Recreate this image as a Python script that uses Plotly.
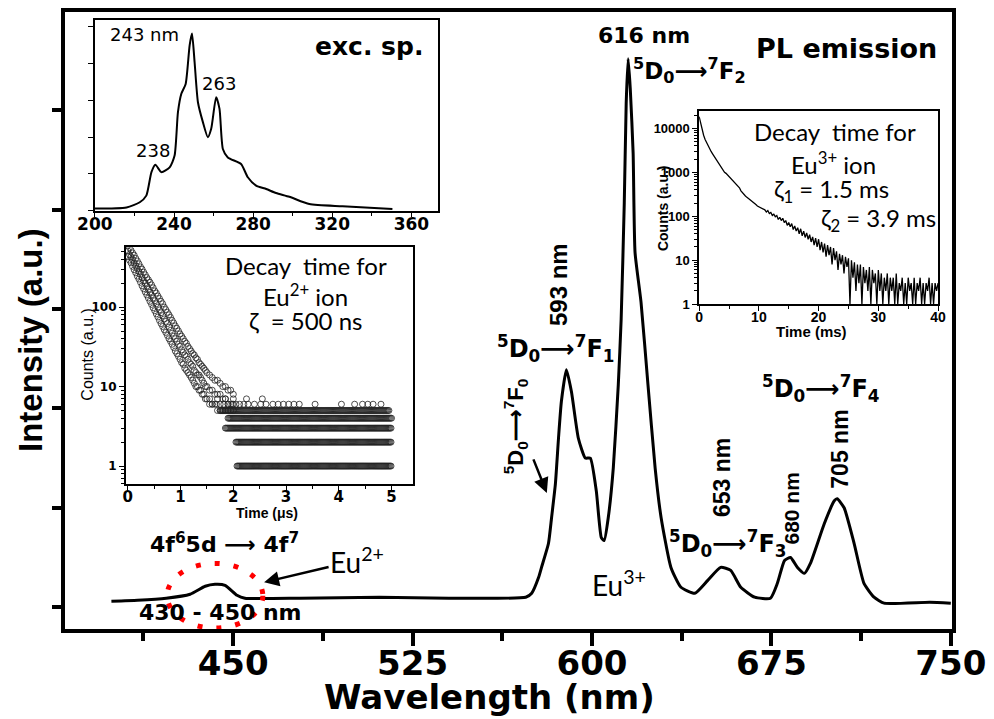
import numpy as np
import plotly.graph_objects as go

# ---------------- data ----------------
# main PL emission spectrum
pl_wavelength = [399.1, 410.0, 422.0, 432.0, 438.3, 442.4, 446.6, 451.6, 454.9, 477.8, 511.1, 540.2,
                 572.3, 574.8, 577.7, 578.9, 581.8, 583.1, 584.7, 586.0, 587.2, 589.3, 591.4, 594.3,
                 597.2, 599.3, 601.8, 603.9, 605.1, 606.8, 608.9, 611.0, 612.2, 613.5, 614.3, 615.1,
                 616.0, 617.2, 618.0, 620.5, 623.4, 626.4, 628.9, 633.0, 637.2, 643.0, 648.4, 653.8,
                 658.0, 662.2, 668.0, 674.6, 677.5, 680.5, 683.0, 685.9, 688.8, 691.3, 697.1, 701.3,
                 702.5, 705.4, 709.6, 713.7, 717.9, 722.1, 741.2, 750.0]
pl_intensity = [0.06, 0.07, 0.09, 0.13, 0.21, 0.23, 0.22, 0.12, 0.09, 0.09, 0.10, 0.09,
                0.10, 0.14, 0.30, 0.40, 0.64, 0.90, 1.24, 1.70, 2.07, 2.39, 2.17, 1.70,
                1.50, 1.50, 1.17, 0.70, 0.67, 0.90, 1.40, 2.24, 2.90, 4.07, 5.07, 5.52,
                5.22, 4.57, 3.57, 3.07, 2.24, 1.40, 0.90, 0.40, 0.20, 0.14, 0.27, 0.40,
                0.37, 0.20, 0.10, 0.09, 0.24, 0.47, 0.50, 0.40, 0.34, 0.44, 0.84, 1.07,
                1.09, 1.00, 0.64, 0.24, 0.10, 0.04, 0.05, 0.04]
main_ticks = [450, 525, 600, 675, 750]

# excitation spectrum (inset 1)
exc_wavelength = [200.0, 216.0, 222.7, 226.0, 228.6, 230.6, 233.6, 237.8, 240.3, 242.0, 243.7, 245.9,
                  247.9, 249.1, 250.4, 252.1, 254.6, 257.1, 258.8, 261.3, 263.0, 264.7, 267.2, 273.9,
                  277.3, 281.5, 286.6, 291.6, 298.3, 308.4, 325.2, 350.4]
exc_intensity = [0.06, 0.09, 0.23, 0.41, 1.05, 1.25, 1.05, 1.18, 1.50, 2.68, 3.18, 3.45,
                 4.50, 4.82, 4.05, 2.95, 2.41, 2.00, 2.23, 3.09, 2.77, 1.68, 1.45, 1.27,
                 0.91, 0.68, 0.59, 0.48, 0.38, 0.18, 0.12, 0.05]
exc_ticks = [200, 240, 280, 320, 360]

# Eu2+ decay (inset 2), time in microseconds
eu2_time = [0.00, 0.03, 0.06, 0.09, 0.12, 0.15, 0.18, 0.21, 0.24, 0.27, 0.30, 0.33, 0.36, 0.39,
            0.42, 0.45, 0.48, 0.51, 0.54, 0.57, 0.60, 0.63, 0.66, 0.69, 0.72, 0.75, 0.78, 0.81,
            0.84, 0.87, 0.90, 0.93, 0.96, 0.99, 1.02, 1.05, 1.08, 1.11, 1.14, 1.17, 1.20, 1.23,
            1.26, 1.29, 1.32, 1.35, 1.38, 1.41, 1.44, 1.47, 1.50, 1.55, 1.60, 1.65, 1.70, 1.75,
            1.80, 1.85, 1.90, 1.95, 2.00]
eu2_counts_high = [600, 560, 520, 480, 450, 410, 380, 350, 320, 300, 275, 255, 235, 220,
                   205, 190, 175, 160, 150, 138, 128, 118, 110, 100, 93, 86, 80, 74,
                   68, 63, 58, 54, 50, 46, 43, 40, 37, 35, 32, 30, 28, 26,
                   25, 23, 22, 20, 19, 18, 17, 16, 15, 14, 13, 12, 12, 11,
                   10, 10, 9, 9, 8]
eu2_counts_mid = [510, 460, 430, 395, 360, 330, 305, 280, 258, 235, 215, 200, 183, 168,
                  154, 142, 130, 120, 110, 100, 92, 85, 78, 71, 66, 62, 56, 51,
                  47, 43, 40, 37, 34, 32, 29, 27, 25, 24, 22, 20, 19, 18,
                  16, 15, 14, 14, 13, 12, 11, 10, 10, 9, 9, 8, 8, 8,
                  7, 7, 6, 6, 6]
eu2_counts_low = [430, 390, 360, 325, 295, 270, 245, 225, 205, 185, 170, 155, 142, 130,
                  118, 108, 98, 90, 82, 75, 68, 62, 57, 52, 48, 44, 40, 37,
                  34, 31, 28, 26, 24, 22, 20, 19, 17, 16, 15, 14, 13, 12,
                  11, 10, 10, 9, 9, 8, 8, 7, 7, 6, 6, 6, 5, 5,
                  5, 5, 5, 5, 5]
eu2_floor_levels = [1, 2, 3, 4, 5]
eu2_floor_start = [2.07, 2.05, 1.85, 1.90, 1.75]
eu2_floor_end = [5.00, 5.00, 5.00, 5.00, 4.95]
eu2_level6_time = [1.60, 1.68, 1.75, 1.82, 1.90, 1.98, 2.05, 2.12, 2.20, 2.28, 2.40, 2.52, 2.62,
                   2.75, 2.85, 2.95, 3.05, 3.15, 3.25, 3.55, 4.05, 4.30, 4.45, 4.55, 4.65, 4.80]
eu2_level7_time = [1.55, 1.70, 1.85, 2.00, 2.25, 2.55]

# Eu3+ decay (inset 3), time in ms with 0.25 ms channels
eu3_counts = [18600, 13500, 9000, 7000, 5600, 4700, 4000, 3500, 3000, 2650, 2350, 2100, 1800,
              1620, 1480, 1330, 1150, 1000, 950, 870, 800, 740, 680, 620, 560, 520, 480, 445,
              380, 340, 310, 290, 270, 255, 240, 225, 212, 200, 185, 172, 165, 160, 150, 146,
              140, 125, 135, 115, 122, 105, 112, 98, 104, 85, 95, 80, 90, 72, 80, 62,
              72, 58, 68, 50, 60, 46, 55, 40, 52, 36, 46, 33, 42, 30, 38, 26,
              34, 22, 32, 20, 30, 17, 26, 15, 24, 12, 22, 13, 20, 8, 19, 10,
              16, 6, 14, 8, 13, 5, 12, 7, 11, 1, 10, 4, 9, 2, 8, 3,
              8, 1, 7, 3, 6, 2, 7, 1, 6, 3, 5, 1, 6, 2, 5, 1,
              4, 2, 5, 1, 4, 2, 4, 1, 5, 1, 3, 2, 4, 1, 3, 1,
              4, 2, 3, 1, 4, 1, 3, 2, 4, 1, 3, 1, 3, 2, 4, 1,
              3, 1, 3, 2, 3]
eu3_channel_ms = 0.25

# ---------------- layout helpers ----------------
W, H = 994, 719
ML, MR, MT, MB = 65, 38, 8, 90
PW, PH = W - ML - MR, H - MT - MB


def px(x):
    return (x - ML) / PW


def py(y):
    return (H - MB - y) / PH


BOLD = "DejaVu Sans"
ARIAL = "Liberation Sans"
CAL = "Lato"

fig = go.Figure()

# main spectrum
fig.add_trace(go.Scatter(x=pl_wavelength, y=pl_intensity, mode="lines",
                         line=dict(color="black", width=3, shape="spline", smoothing=0.5),
                         xaxis="x", yaxis="y", showlegend=False))

# excitation inset
fig.add_trace(go.Scatter(x=exc_wavelength, y=exc_intensity, mode="lines",
                         line=dict(color="black", width=2, shape="spline", smoothing=0.6),
                         xaxis="x2", yaxis="y2", showlegend=False))

# Eu2+ decay inset
t2 = list(eu2_time) * 3
c2 = list(eu2_counts_high) + list(eu2_counts_mid) + list(eu2_counts_low)
for lvl, s, e in zip(eu2_floor_levels, eu2_floor_start, eu2_floor_end):
    tt = np.arange(s, e + 1e-9, 0.02)
    t2 += list(tt)
    c2 += [lvl] * len(tt)
t2 += eu2_level6_time
c2 += [6] * len(eu2_level6_time)
t2 += eu2_level7_time
c2 += [7] * len(eu2_level7_time)
fig.add_trace(go.Scatter(x=t2, y=c2, mode="markers",
                         marker=dict(symbol="circle-open", size=6, color="#222",
                                     line=dict(width=0.8)),
                         xaxis="x3", yaxis="y3", showlegend=False))

# Eu3+ decay inset
t3 = np.arange(len(eu3_counts)) * eu3_channel_ms
fig.add_trace(go.Scatter(x=t3, y=eu3_counts, mode="lines",
                         line=dict(color="black", width=1.3),
                         xaxis="x4", yaxis="y4", showlegend=False))

# ---------------- axes ----------------
main_axis_common = dict(showgrid=False, zeroline=False, linecolor="black", linewidth=4,
                        mirror=True, ticks="outside", tickcolor="black")

inset_common = dict(showgrid=False, zeroline=False, linecolor="black", linewidth=1.5,
                    mirror=True, ticks="outside", tickcolor="black", tickwidth=1)

fig.update_layout(
    width=W, height=H,
    margin=dict(l=ML, r=MR, t=MT, b=MB),
    paper_bgcolor="white", plot_bgcolor="white",
    xaxis=dict(domain=[0, 1], range=[379.7, 750.5], tickvals=main_ticks,
               ticklen=13, tickwidth=4, ticklabelstandoff=-12,
               tickfont=dict(family=BOLD, size=34, color="black", weight="bold"),
               minor=dict(tickvals=[412.5, 487.5, 562.5, 637.5, 712.5], ticks="outside",
                          ticklen=8, tickwidth=4, tickcolor="black"),
               **main_axis_common),
    yaxis=dict(domain=[0, 1], range=[-0.22, 5.99], tickvals=[0, 1, 2, 3, 4, 5],
               showticklabels=False, ticklen=9, tickwidth=4, **main_axis_common),
    xaxis2=dict(domain=[px(95), px(440)], range=[200, 373.6], anchor="y2",
                tickvals=exc_ticks, ticklen=5, ticklabelstandoff=-8,
                tickfont=dict(family=BOLD, size=17, color="black", weight="bold"),
                minor=dict(dtick=20, tick0=200, ticks="outside", ticklen=4, tickcolor="black"),
                **inset_common),
    yaxis2=dict(domain=[py(208), py(16)], range=[0, 5.19], anchor="x2",
                tickvals=[0, 1, 2, 3, 4, 5], showticklabels=False, ticklen=5, **inset_common),
    xaxis3=dict(domain=[px(126), px(415)], range=[-0.04, 5.415], anchor="y3",
                tickvals=[0, 1, 2, 3, 4, 5], ticklen=5, ticklabelstandoff=-7,
                tickfont=dict(family=BOLD, size=15, color="black", weight="bold"),
                minor=dict(dtick=0.5, tick0=0, ticks="outside", ticklen=3, tickcolor="black"),
                **inset_common),
    yaxis3=dict(domain=[py(483), py(245)], type="log", range=[-0.225, 2.75], anchor="x3",
                tickvals=[1, 10, 100], ticktext=["1", "10", "100"], ticklen=5,
                tickfont=dict(family=BOLD, size=12, color="black", weight="bold"),
                minor=dict(dtick="D1", ticks="outside", ticklen=3, tickcolor="black"),
                **inset_common),
    xaxis4=dict(domain=[px(702), px(942)], range=[0, 40], anchor="y4",
                tickvals=[0, 10, 20, 30, 40], ticklen=5, ticklabelstandoff=-6,
                tickfont=dict(family=ARIAL, size=14, color="black", weight="bold"),
                minor=dict(dtick=5, tick0=0, ticks="outside", ticklen=3, tickcolor="black"),
                **inset_common),
    yaxis4=dict(domain=[py(302), py(108)], type="log", range=[0, 4.39], anchor="x4",
                tickvals=[1, 10, 100, 1000, 10000],
                ticktext=["1", "10", "100", "1000", "10000"], ticklen=5,
                tickfont=dict(family=ARIAL, size=13, color="black", weight="bold"),
                minor=dict(dtick="D1", ticks="outside", ticklen=3, tickcolor="black"),
                **inset_common),
)

# ---------------- annotations ----------------
ann = []


def add(text, x, y, family=BOLD, size=20, weight="bold", angle=0, bg=None, **kw):
    d = dict(text=text, x=px(x), y=py(y), xref="paper", yref="paper", showarrow=False,
             textangle=angle, xanchor="center", yanchor="middle",
             font=dict(family=family, size=size, color="black", weight=weight))
    if bg:
        d["bgcolor"] = bg
    d.update(kw)
    ann.append(d)


ARROW = "\u27f6"

add("Intensity (a.u.)", 31, 338, family=ARIAL, size=33, angle=-90)
add("Wavelength (nm)", 491, 697, size=34)

add("616 nm", 647, 32, size=22)
add(f"<sup>5</sup>D<sub>0</sub>{ARROW}<sup>7</sup>F<sub>2</sub>", 692, 67, size=23)
add("PL emission", 850, 45, size=27)
add("exc. sp.", 370, 43, size=25)
add("243 nm", 145, 31, size=18, weight="normal")
add("263", 220, 80, size=18, weight="normal")
add("238", 153, 147, size=18, weight="normal")

add("Decay  time for", 307, 263, family=CAL, size=24, weight="normal")
add("Eu<sup>2+</sup> ion", 307, 293, family=CAL, size=24, weight="normal")
add("\u03b6  = 500 ns", 307, 319, family=CAL, size=24, weight="normal")
add("Counts (a.u.)", 88, 353, family=ARIAL, size=16, weight="normal", angle=-90)
add("Time (\u03bcs)", 268, 512, family=ARIAL, size=14)

add("Decay  time for", 838, 128, family=CAL, size=24, weight="normal")
add("Eu<sup>3+</sup> ion", 837, 160, family=CAL, size=24, weight="normal")
add("\u03b6<sub>1</sub> = 1.5 ms", 835, 188, family=CAL, size=24, weight="normal")
add("\u03b6<sub>2</sub> = 3.9 ms", 882, 217, family=CAL, size=24, weight="normal")
add("Counts (a.u.)", 665, 205, family=ARIAL, size=14, angle=-90)
add("Time (ms)", 815, 330, family=ARIAL, size=15)

add("593 nm", 560, 282, family=ARIAL, size=24, angle=-90)
add("653 nm", 725, 477, family=ARIAL, size=23, angle=-90)
add("680 nm", 795, 508, family=ARIAL, size=21, angle=-90)
add("705 nm", 844, 448, family=ARIAL, size=23, angle=-90)

add(f"<sup>5</sup>D<sub>0</sub>{ARROW}<sup>7</sup>F<sub>1</sub>", 558, 347, size=24)
add(f"<sup>5</sup>D<sub>0</sub>{ARROW}<sup>7</sup>F<sub>0</sub>", 517, 425, family=ARIAL, size=22,
    angle=-90)
add(f"<sup>5</sup>D<sub>0</sub>{ARROW}<sup>7</sup>F<sub>3</sub>", 730, 543, size=24)
add(f"<sup>5</sup>D<sub>0</sub>{ARROW}<sup>7</sup>F<sub>4</sub>", 824, 387, size=24)

add("Eu<sup>3+</sup>", 621, 583, family=CAL, size=28, weight="normal", bg="white")
add(f"4f<sup>6</sup>5d {ARROW} 4f<sup>7</sup>", 225, 542, size=22)
add("430 - 450 nm", 221, 612, size=22)

# Eu2+ label with pointer (offsets in pixels from the tip)
ann.append(dict(text="Eu<sup>2+</sup>", x=px(265), y=py(582), xref="paper", yref="paper",
                ax=358 - 265, ay=560 - 582, axref="pixel", ayref="pixel",
                showarrow=True, arrowhead=2, arrowsize=1.2, arrowwidth=2.5, arrowcolor="black",
                standoff=0, bgcolor="white",
                font=dict(family=CAL, size=28, color="black")))
# 5D0-7F0 pointer
ann.append(dict(text="", x=px(549), y=py(492), xref="paper", yref="paper",
                ax=535 - 549, ay=457 - 492, axref="pixel", ayref="pixel",
                showarrow=True, arrowhead=2, arrowsize=1.2, arrowwidth=2.5, arrowcolor="black"))

fig.update_layout(annotations=ann)

# red dotted ellipse around the Eu2+ band
fig.add_shape(type="circle", xref="x", yref="y",
              x0=422.4, x1=462.4, y0=-0.21, y1=0.44,
              line=dict(color="red", width=5, dash="5px,14px"))

fig.write_html("out.html", config={"displayModeBar": False},
               post_script="document.body.style.margin='0px';")
